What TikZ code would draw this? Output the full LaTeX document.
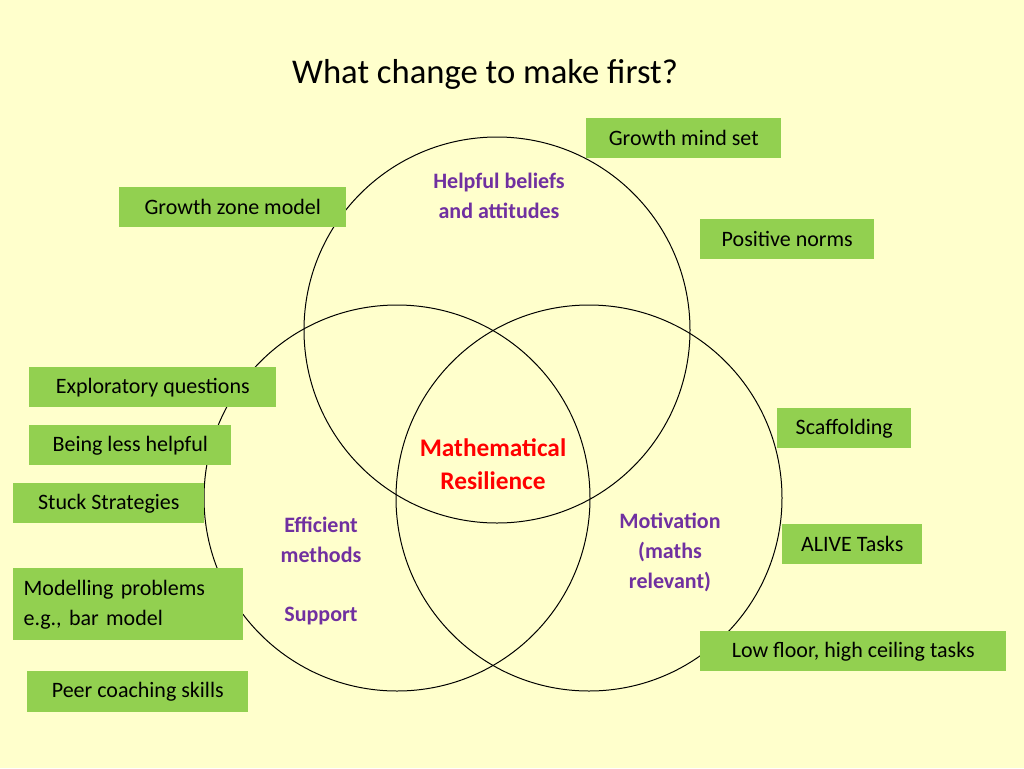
\documentclass[tikz,border=0pt]{standalone}
\usepackage{fontspec}
\setmainfont{Carlito}
\definecolor{bg}{HTML}{FFFFCC}
\definecolor{gbox}{HTML}{92D050}
\definecolor{purp}{HTML}{7030A0}
\begin{document}
\begin{tikzpicture}[x=0.75pt,y=-0.75pt,
  box/.style={fill=gbox,inner xsep=7.5pt,inner ysep=0pt,anchor=north west,align=left,font=\fontsize{16.5}{22.5}\selectfont},
  lab/.style={font=\bfseries\fontsize{16.5}{22.5}\selectfont,text=purp,align=center},
  ring/.style={draw=black,line width=0.75pt}]
\fill[bg] (0,0) rectangle (1024,768);
\useasboundingbox (0,0) rectangle (1024,768);
\node[font=\fontsize{26}{30}\selectfont] (title) at (485,74) {What change to make first?};
\draw[ring] (497,330) circle (193);
\draw[ring] (397,498) circle (193);
\draw[ring] (589,498) circle (193);
\node[lab] (hb) at (499,196) {Helpful beliefs\\and attitudes};
\node[lab,text=red,font=\bfseries\fontsize{19}{25}\selectfont] (mr) at (493,464) {Mathematical\\Resilience};
\node[lab] (em) at (321,540) {Efficient\\methods};
\node[lab] (su) at (321,616) {Support};
\node[lab] (mo) at (670,552) {Motivation\\(maths\\relevant)};
\node[box,minimum width=146.25pt,minimum height=30pt] (g1) at (586,118) {Growth mind set};
\node[box,minimum width=170.25pt,minimum height=30pt] (g2) at (119,187) {Growth zone model};
\node[box,minimum width=130.5pt,minimum height=30pt] (g3) at (700,219) {Positive norms};
\node[box,minimum width=185.25pt,minimum height=30pt] (g4) at (29,367) {Exploratory questions};
\node[box,minimum width=151.5pt,minimum height=30pt] (g5) at (29,425) {Being less helpful};
\node[box,minimum width=143.25pt,minimum height=30pt] (g6) at (13,483) {Stuck Strategies};
\node[box,minimum width=172.5pt,minimum height=54pt,text width=157pt] (g7) at (13,568) {Modelling problems\\e.g., bar model};
\node[box,minimum width=165.75pt,minimum height=30.75pt] (g8) at (27,671) {Peer coaching skills};
\node[box,minimum width=100.5pt,minimum height=30pt] (g9) at (777,408) {Scaffolding};
\node[box,minimum width=105pt,minimum height=30pt] (g10) at (782,524) {ALIVE Tasks};
\node[box,minimum width=229.5pt,minimum height=30pt] (g11) at (700,631) {Low floor, high ceiling tasks};
\end{tikzpicture}
\end{document}
